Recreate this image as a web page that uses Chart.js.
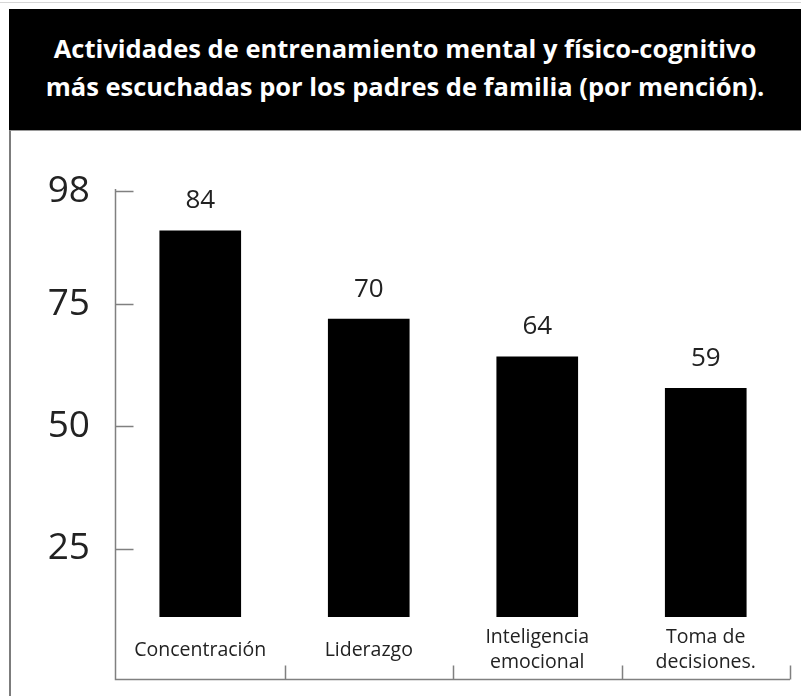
<!DOCTYPE html>
<html lang="es">
<head>
  <meta charset="UTF-8">
  <title>Actividades de entrenamiento mental y físico-cognitivo</title>
  <script src="https://cdn.jsdelivr.net/npm/chart.js"></script>
  <style>
    body { margin: 0; background: #fff; font-family: "Open Sans", sans-serif; }
    .linea-sup { position: absolute; left: 0; top: 2px; width: 801px; height: 1px; background: #d6d6d6; }
    .titulo { position: absolute; left: 9px; top: 9px; width: 792px; height: 121px; background: #000;
              color: #fff; font-weight: bold; font-size: 25.5px; line-height: 38px; text-align: center;
              display: flex; flex-direction: column; justify-content: center; padding-bottom: 5px; box-sizing: border-box; }
    .panel { position: absolute; left: 9px; top: 130px; width: 792px; height: 566px;
             border-left: 2px solid #7c7c7c; border-top: 1px solid #9a9a9a; box-sizing: border-box; }
    .grafica { position: absolute; left: 10px; top: 131px; width: 791px; height: 565px; }
  </style>
</head>
<body>
  <div class="linea-sup"></div>
  <div class="titulo">
    <div>Actividades de entrenamiento mental y físico-cognitivo</div>
    <div>más escuchadas por los padres de familia (por mención).</div>
  </div>
  <div class="panel"></div>
  <div class="grafica"><canvas id="graficaActividades"></canvas></div>

  <script>
    const categorias = ["Concentración", "Liderazgo", ["Inteligencia", "emocional"], ["Toma de", "decisiones."]];
    const menciones = [84, 70, 64, 59];
    const marcasEje = [98, 75, 50, 25];

    // valores escritos encima de cada barra
    const etiquetasValor = {
      id: 'etiquetasValor',
      afterDatasetsDraw(chart) {
        const ctx = chart.ctx;
        const meta = chart.getDatasetMeta(0);
        ctx.save();
        ctx.font = '26px "Open Sans"';
        ctx.fillStyle = '#222';
        ctx.textAlign = 'center';
        ctx.textBaseline = 'middle';
        meta.data.forEach((bar, i) => {
          ctx.fillText(menciones[i], bar.x, bar.y - 30);
        });
        ctx.restore();
      }
    };

    // ejes dibujados a mano: línea vertical, base con separadores y marcas cortas
    const lineasEje = {
      id: 'lineasEje',
      afterDraw(chart) {
        const { ctx, chartArea, scales } = chart;
        const x = scales.x, y = scales.y;
        const izq = chartArea.left - 0.5;
        const base = x.bottom - 0.5;
        const mitad = (x.getPixelForValue(1) - x.getPixelForValue(0)) / 2;
        ctx.save();
        ctx.strokeStyle = '#808080';
        ctx.lineWidth = 1.5;
        ctx.beginPath();
        ctx.moveTo(izq, chartArea.top - 1);
        ctx.lineTo(izq, base);
        ctx.lineTo(x.getPixelForValue(categorias.length - 1) + mitad, base);
        for (let i = 1; i <= categorias.length; i++) {
          const px = Math.round(x.getPixelForValue(i - 1) + mitad) + 0.5;
          ctx.moveTo(px, base);
          ctx.lineTo(px, base - 14);
        }
        y.ticks.forEach(t => {
          const py = Math.round(y.getPixelForValue(t.value)) + 0.5;
          ctx.moveTo(izq, py);
          ctx.lineTo(izq + 18, py);
        });
        ctx.stroke();
        ctx.restore();
      }
    };

    const ctx = document.getElementById("graficaActividades").getContext("2d");
    new Chart(ctx, {
      type: 'bar',
      data: {
        labels: categorias,
        datasets: [{
          label: 'Menciones',
          data: menciones,
          yAxisID: 'yBarras',
          backgroundColor: '#000',
          borderWidth: 0,
          barThickness: 81
        }]
      },
      options: {
        responsive: true,
        maintainAspectRatio: false,
        animation: false,
        layout: { padding: { left: 0, right: 11, top: 59, bottom: 16 } },
        plugins: {
          legend: { display: false },
          tooltip: { enabled: false }
        },
        scales: {
          x: {
            grid: { display: false, drawTicks: false },
            border: { display: false },
            ticks: {
              color: '#222',
              font: { family: 'Open Sans', size: 19.5, lineHeight: 1.33 },
              padding: 20,
              maxRotation: 0,
              autoSkip: false,
              crossAlign: 'center'
            },
            afterFit: (scale) => { scale.height = 63; }
          },
          y: {
            min: 11,
            max: 98.3,
            grid: { display: false, drawTicks: false },
            border: { display: false },
            ticks: {
              color: '#222',
              font: { family: 'Open Sans', size: 37 },
              padding: 26
            },
            afterBuildTicks: (scale) => { scale.ticks = marcasEje.map(v => ({ value: v })); },
            afterFit: (scale) => { scale.width = 106; }
          },
          yBarras: {
            display: false,
            min: 22.7,
            max: 90.5
          }
        }
      },
      plugins: [etiquetasValor, lineasEje]
    });
  </script>
</body>
</html>
